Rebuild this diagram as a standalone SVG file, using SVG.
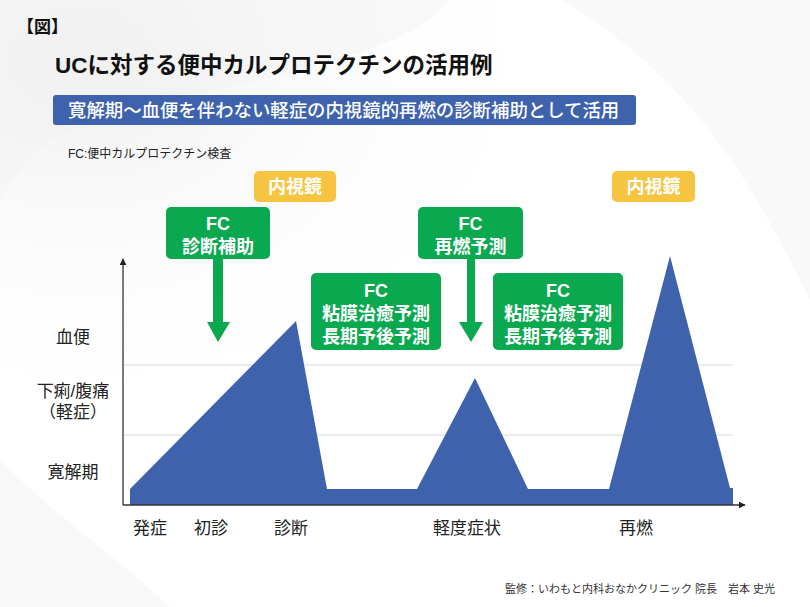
<svg xmlns="http://www.w3.org/2000/svg" width="810" height="607" viewBox="0 0 810 607">
<defs>
<style>
text{font-family:"Liberation Sans","Noto Sans CJK JP",sans-serif;}
.lbl{font-size:17px;fill:#222;text-anchor:middle;}
.wt{fill:#fff;text-anchor:middle;font-weight:bold;font-size:18px;}
.green{fill:#0aa84f;}
.yellow{fill:#f6c440;}
.grid{stroke:#d6d6d6;stroke-width:1;}
.axis{stroke:#333;stroke-width:1.3;fill:none;}
</style>
<radialGradient id="bg1" cx="0.1" cy="0.1" r="0.6">
<stop offset="0" stop-color="#efefef"/>
<stop offset="1" stop-color="#ffffff" stop-opacity="0"/>
</radialGradient>
<marker id="ah" viewBox="0 0 10 10" refX="9" refY="5" markerWidth="7" markerHeight="7" orient="auto" markerUnits="userSpaceOnUse">
<path d="M0,0 L10,5 L0,10 z" fill="#222"/>
</marker>
</defs>
<rect width="810" height="607" fill="#ffffff"/>
<rect width="810" height="607" fill="url(#bg1)"/>
<path d="M0,0 L450,0 C400,60 250,80 120,110 C60,125 20,160 0,200 Z" fill="#f1f1f1" opacity="0.45"/>
<path d="M560,0 L810,0 L810,300 C760,200 700,80 560,0 Z" fill="#f3f3f3" opacity="0.5"/>
<path d="M0,607 L0,460 C60,520 120,560 170,607 Z" fill="#f2f2f2" opacity="0.5"/>

<g id="header">
<text x="17" y="33" font-size="17" font-weight="bold" fill="#111">【図】</text>
<text x="55" y="73" font-size="22.5" font-weight="bold" fill="#111">UCに対する便中カルプロテクチンの活用例</text>
<rect x="53" y="95" width="583" height="30" rx="3" fill="#3e63ac"/>
<text x="68" y="117" font-size="18.4" font-weight="500" fill="#fff">寛解期〜血便を伴わない軽症の内視鏡的再燃の診断補助として活用</text>
<text x="68" y="158" font-size="12" fill="#222">FC:便中カルプロテクチン検査</text>
</g>

<g id="grid">
<line class="grid" x1="124" y1="365" x2="733" y2="365"/>
<line class="grid" x1="124" y1="435" x2="733" y2="435"/>
</g>

<g id="activity">
<polygon points="130,505 130,489 296,321 327,489 417,489 475,378 528,489 609,489 670,256 730,488 733,488 733,505" fill="#3e63ac"/>
</g>

<g id="connectors">
<line class="axis" x1="123" y1="505" x2="123" y2="259" marker-end="url(#ah)"/>
<line class="axis" x1="123" y1="505" x2="745" y2="505" marker-end="url(#ah)"/>
<polygon class="green" points="213,259 223,259 223,322 230,322 218,342 207,322 213,322"/>
<polygon class="green" points="467,259 475,259 475,322 483,322 471,342 459,322 467,322"/>
</g>

<g id="y-labels">
<text class="lbl" x="73" y="343">血便</text>
<text class="lbl" x="73" y="397">下痢/腹痛<tspan x="73" y="418">（軽症）</tspan></text>
<text class="lbl" x="73" y="478">寛解期</text>
</g>

<g id="x-labels">
<text class="lbl" x="150" y="534">発症</text>
<text class="lbl" x="211" y="534">初診</text>
<text class="lbl" x="291" y="534">診断</text>
<text class="lbl" x="467" y="534">軽度症状</text>
<text class="lbl" x="636" y="534">再燃</text>
</g>

<g id="endoscopy1">
<rect class="yellow" x="254" y="171" width="82" height="31" rx="5"/>
<text class="wt" x="295" y="193" font-size="17">内視鏡</text>
</g>
<g id="endoscopy2">
<rect class="yellow" x="612" y="171" width="83" height="31" rx="5"/>
<text class="wt" x="653.5" y="193" font-size="17">内視鏡</text>
</g>

<g id="fc-diagnosis">
<rect class="green" x="166" y="207" width="104" height="52" rx="5"/>
<text class="wt" x="218" y="230">FC<tspan x="218" y="253">診断補助</tspan></text>
</g>
<g id="fc-prognosis1">
<rect class="green" x="311" y="273" width="130" height="77" rx="5"/>
<text class="wt" x="376" y="297">FC<tspan x="376" y="320">粘膜治癒予測</tspan><tspan x="376" y="343">長期予後予測</tspan></text>
</g>
<g id="fc-relapse">
<rect class="green" x="418" y="207" width="105" height="52" rx="5"/>
<text class="wt" x="470.5" y="230">FC<tspan x="470.5" y="253">再燃予測</tspan></text>
</g>
<g id="fc-prognosis2">
<rect class="green" x="493" y="273" width="130" height="77" rx="5"/>
<text class="wt" x="558" y="297">FC<tspan x="558" y="320">粘膜治癒予測</tspan><tspan x="558" y="343">長期予後予測</tspan></text>
</g>

<g id="credit">
<text x="775" y="593" font-size="11" fill="#333" text-anchor="end">監修：いわもと内科おなかクリニック 院長　岩本 史光</text>
</g>
</svg>
